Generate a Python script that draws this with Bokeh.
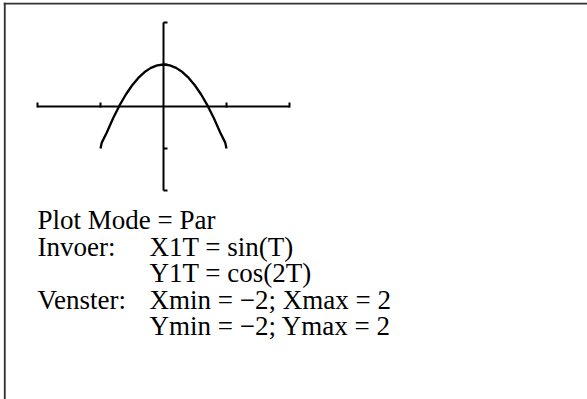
from bokeh.plotting import figure
from bokeh.models import Label, Span, Range1d
from bokeh.embed import file_html
from bokeh.resources import INLINE

# ---- data (graphing-calculator screen) ----
window_min = -2.0          # Xmin / Ymin
window_max = 2.0           # Xmax / Ymax
x_ticks = [-2, -1, 1, 2]
y_ticks = [-2, -1, 1, 2]

curve_x = [-1.0, -0.98, -0.9, -0.8, -0.7, -0.6, -0.5, -0.4, -0.3, -0.2, -0.1, 0.0,
           0.1, 0.2, 0.3, 0.4, 0.5, 0.6, 0.7, 0.8, 0.9, 0.98, 1.0]
curve_y = [-1.0, -0.86, -0.62, -0.28, 0.02, 0.28, 0.5, 0.68, 0.82, 0.92, 0.98, 1.0,
           0.98, 0.92, 0.82, 0.68, 0.5, 0.28, 0.02, -0.28, -0.62, -0.86, -1.0]

col1_lines = ["Plot Mode = Par", "Invoer:", "", "Venster:", ""]
col2_lines = ["", "X1T = sin(T)", "Y1T = cos(2T)", "Xmin = \u22122; Xmax = 2", "Ymin = \u22122; Ymax = 2"]

# ---- layout (page pixels) ----
CL, CT, W, H = 3, 2, 584, 397          # canvas position on page and size
OX, OY = 163.0, 106.0                  # page position of the origin
SX, SY = 63.0, 42.0                    # pixels per unit


def dx(px):
    return (px - OX) / SX


def dy(py):
    return (OY - py) / SY


p = figure(width=W, height=H, output_backend="svg", toolbar_location=None,
           x_range=Range1d(dx(CL), dx(CL + W)), y_range=Range1d(dy(CT + H), dy(CT)),
           x_axis_location=None, y_axis_location=None, min_border=0,
           outline_line_color=None, background_fill_color="white",
           border_fill_color="white", margin=(CT, 0, 0, CL))
p.grid.visible = False

# frame lines (top and left only)
p.add_layout(Span(location=dx(4.2), dimension="height", line_color="#333333", line_width=2))
p.add_layout(Span(location=dy(3.0), dimension="width", line_color="#333333", line_width=2))

# calculator axes
p.segment(x0=[window_min, 0], y0=[0, window_min], x1=[window_max, 0], y1=[0, window_max],
          line_color="black", line_width=2, line_cap="butt")
tick_up = 4.0 / SY
tick_right = 4.0 / SX
p.segment(x0=x_ticks, y0=[-1.0 / SY] * len(x_ticks), x1=x_ticks, y1=[tick_up] * len(x_ticks),
          line_color="black", line_width=2, line_cap="butt")
p.segment(x0=[0] * len(y_ticks), y0=y_ticks, x1=[tick_right] * len(y_ticks), y1=y_ticks,
          line_color="black", line_width=2, line_cap="butt")

# parametric curve
p.line(curve_x, curve_y, line_color="black", line_width=2.3)

# text block
baselines = [219, 246, 272, 299, 325]
for txt, b in zip(col1_lines, baselines):
    if txt:
        p.add_layout(Label(x=dx(37), y=dy(b), text=txt, text_font="Liberation Serif",
                           text_font_size="27px", text_baseline="alphabetic", text_color="black"))
for txt, b in zip(col2_lines, baselines):
    if txt:
        p.add_layout(Label(x=dx(149), y=dy(b), text=txt, text_font="Liberation Serif",
                           text_font_size="27px", text_baseline="alphabetic", text_color="black"))

open("out.html", "w").write(file_html(p, INLINE))
